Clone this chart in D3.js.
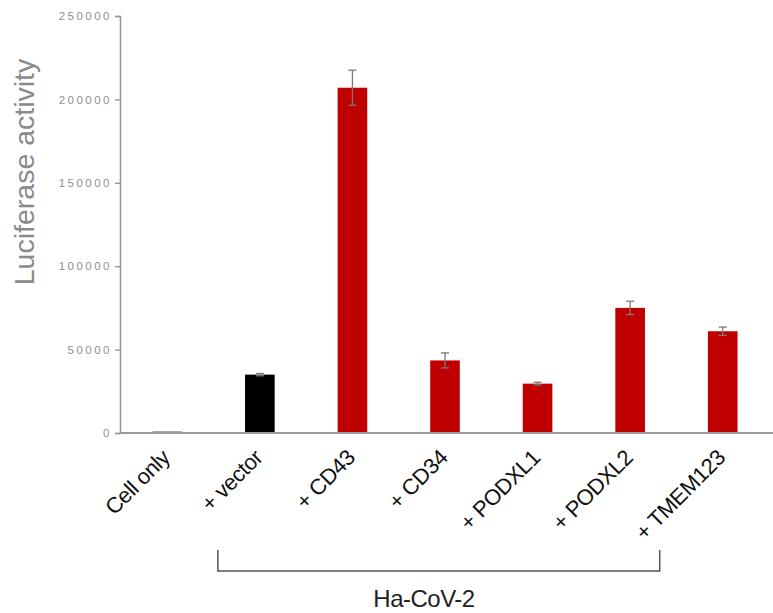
<!DOCTYPE html>
<html>
<head>
<meta charset="utf-8">
<script src="https://cdn.jsdelivr.net/npm/d3@7"></script>
<style>
  body { margin: 0; background: #fff; }
  svg { display: block; font-family: "Liberation Sans", Arial, Helvetica, sans-serif; }
</style>
</head>
<body>
<svg id="chart" width="773" height="613"></svg>
<script>
'use strict';

var categories = ["Cell only", "+ vector", "+ CD43", "+ CD34", "+ PODXL1", "+ PODXL2", "+ TMEM123"];
var values = [800, 35000, 207000, 43500, 29600, 75000, 61000];
var errors = [0, 700, 10500, 4500, 800, 4000, 2500];
var barColors = ["#000000", "#000000", "#c00000", "#c00000", "#c00000", "#c00000", "#c00000"];
var yTicks = [0, 50000, 100000, 150000, 200000, 250000];
var groupLabel = "Ha-CoV-2";

var WIDTH = 773;
var AXIS_X = 120;
var AXIS_TOP = 16;
var AXIS_BOTTOM = 433;

var svg = d3.select("#chart");

var data = categories.map(function (c, i) {
	return { name: c, value: values[i], err: errors[i], color: barColors[i] };
});

var x = d3.scaleBand()
	.domain(categories)
	.range([121, 769])
	.paddingInner(0.68)
	.paddingOuter(0.34);

var y = d3.scaleLinear()
	.domain([0, 250000])
	.range([AXIS_BOTTOM, AXIS_TOP]);

// y axis
var yAxis = svg.append("g")
	.attr("transform", "translate(" + AXIS_X + ",0)")
	.call(d3.axisLeft(y)
		.tickValues(yTicks)
		.tickSize(5)
		.tickPadding(3)
		.tickFormat(d3.format("d")));

yAxis.select(".domain")
	.attr("stroke", "#999")
	.attr("stroke-width", 1.6);

yAxis.selectAll(".tick line")
	.attr("stroke", "#999")
	.attr("stroke-width", 1.4);

yAxis.selectAll(".tick text")
	.attr("fill", "#8f8f8f")
	.style("font-size", "11.5px")
	.style("letter-spacing", "2.5px");

// bars
svg.selectAll(".bar")
	.data(data)
	.enter()
	.append("rect")
	.classed("bar", 1)
	.attr("x", function (d) { return x(d.name); })
	.attr("y", function (d) { return y(d.value); })
	.attr("width", x.bandwidth())
	.attr("height", function (d) { return AXIS_BOTTOM - y(d.value); })
	.style("fill", function (d) { return d.color; });

// error bars
var errData = data.filter(function (d) { return d.err > 0; });

var errG = svg.selectAll(".err")
	.data(errData)
	.enter()
	.append("g")
	.classed("err", 1)
	.attr("stroke", "#7a7a7a")
	.attr("stroke-width", 1.3);

errG.append("line")
	.attr("x1", function (d) { return x(d.name) + x.bandwidth() / 2; })
	.attr("x2", function (d) { return x(d.name) + x.bandwidth() / 2; })
	.attr("y1", function (d) { return y(d.value - d.err); })
	.attr("y2", function (d) { return y(d.value + d.err); });

errG.append("line")
	.attr("x1", function (d) { return x(d.name) + x.bandwidth() / 2 - 4; })
	.attr("x2", function (d) { return x(d.name) + x.bandwidth() / 2 + 4; })
	.attr("y1", function (d) { return y(d.value + d.err); })
	.attr("y2", function (d) { return y(d.value + d.err); });

errG.append("line")
	.attr("x1", function (d) { return x(d.name) + x.bandwidth() / 2 - 4; })
	.attr("x2", function (d) { return x(d.name) + x.bandwidth() / 2 + 4; })
	.attr("y1", function (d) { return y(d.value - d.err); })
	.attr("y2", function (d) { return y(d.value - d.err); });

// x axis baseline, runs to the right edge
svg.append("line")
	.attr("x1", AXIS_X)
	.attr("x2", WIDTH)
	.attr("y1", y(0))
	.attr("y2", y(0))
	.attr("stroke", "#999")
	.attr("stroke-width", 1.8);

// category labels
svg.selectAll(".cat-label")
	.data(categories)
	.enter()
	.append("text")
	.classed("cat-label", 1)
	.attr("transform", function (d) {
		var cx = x(d) + x.bandwidth() / 2 + 4;
		return "translate(" + cx + ",459) rotate(-45)";
	})
	.attr("text-anchor", "end")
	.attr("fill", "#111")
	.style("font-size", "22px")
	.style("letter-spacing", "-0.4px")
	.text(function (d) { return d; });

// y label
svg.append("text")
	.attr("transform", "translate(34,172) rotate(-90)")
	.attr("text-anchor", "middle")
	.attr("fill", "#8a8a8a")
	.style("font-size", "28.5px")
	.text("Luciferase activity");

// bracket under the Ha-CoV-2 groups
var bLeft = x("+ vector") + x.bandwidth() / 2 - 42;
var bRight = x("+ TMEM123") + x.bandwidth() / 2 - 63;

svg.append("path")
	.attr("d", "M" + bLeft + ",550V571H" + bRight + "V550")
	.attr("fill", "none")
	.attr("stroke", "#555")
	.attr("stroke-width", 1.5);

svg.append("text")
	.attr("x", 424)
	.attr("y", 607)
	.attr("text-anchor", "middle")
	.attr("fill", "#222")
	.style("font-size", "24px")
	.style("letter-spacing", "-0.5px")
	.text(groupLabel);
</script>
</body>
</html>
